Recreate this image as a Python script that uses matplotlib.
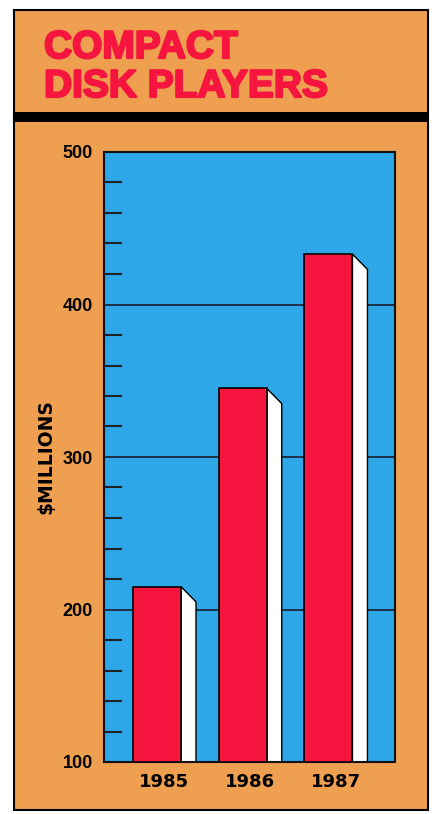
import numpy as np
import matplotlib.pyplot as plt
import matplotlib.patheffects as pe
from matplotlib.patches import Rectangle, Polygon

years = ["1985", "1986", "1987"]
sales = [215, 345, 433]  # $ millions
y_ticks = [100, 200, 300, 400, 500]

orange = "#EF9F50"
blue = "#2EA7E8"
red = "#F5153E"

W, H = 435, 814
fig = plt.figure(figsize=(W / 100, H / 100), dpi=100)
fig.patch.set_facecolor("white")

# background panel in pixel coordinates
bg = fig.add_axes([0, 0, 1, 1])
bg.set_xlim(0, W)
bg.set_ylim(H, 0)
bg.axis("off")
bg.add_patch(Rectangle((14, 10), 414, 800, facecolor=orange, edgecolor="black", linewidth=1.5))
bg.add_patch(Rectangle((14, 112), 414, 10, facecolor="black", edgecolor="none"))

thick = [pe.withStroke(linewidth=1.6, foreground=red)]
bg.text(44, 58, "COMPACT", color=red, fontsize=28, fontweight="bold",
        family="Liberation Sans", va="baseline", ha="left", path_effects=thick)
bg.text(44, 97, "DISK PLAYERS", color=red, fontsize=28, fontweight="bold",
        family="Liberation Sans", va="baseline", ha="left", path_effects=thick)

# plot area: x 104..395, y 152..762 px
ax = fig.add_axes([104 / W, 1 - 762 / H, 291 / W, 610 / H])
ax.set_facecolor(blue)
x = np.arange(len(years))
bar_w = 0.56
dx, dy = 0.175, 10

ax.bar(x, [s - 100 for s in sales], bottom=100, width=bar_w, color=red,
       edgecolor="black", linewidth=1.2, zorder=3)
for xi, s in zip(x, sales):
    right = xi + bar_w / 2
    side = Polygon([(right, s), (right + dx, s - dy), (right + dx, 100), (right, 100)],
                   closed=True, facecolor="white", edgecolor="black", linewidth=1.0, zorder=2)
    ax.add_patch(side)

ax.set_xlim(-0.618, 2.776)
ax.set_ylim(100, 500)
ax.set_yticks(y_ticks)
ax.set_yticks(np.arange(100, 501, 20), minor=True)
ax.set_yticklabels([str(t) for t in y_ticks], fontsize=13, fontweight="bold",
                   family="Liberation Sans")
ax.tick_params(axis="y", which="major", length=0, pad=8)
ax.tick_params(axis="y", which="minor", direction="in", length=13, width=1.5, color="#222222")
ax.set_xticks(x + dx / 2)
ax.set_xticklabels(years, fontsize=13, fontweight="bold", family="DejaVu Sans")
ax.tick_params(axis="x", length=0, pad=8)
for v in [200, 300, 400]:
    ax.axhline(v, color="#1a1a2a", linewidth=1.2, zorder=1)
for sp in ax.spines.values():
    sp.set_linewidth(1.5)
    sp.set_color("#111111")

ax.set_ylabel("$MILLIONS", fontsize=13.5, fontweight="bold", family="DejaVu Sans",
              labelpad=5)

fig.savefig("out.png", dpi=100, facecolor="white")
